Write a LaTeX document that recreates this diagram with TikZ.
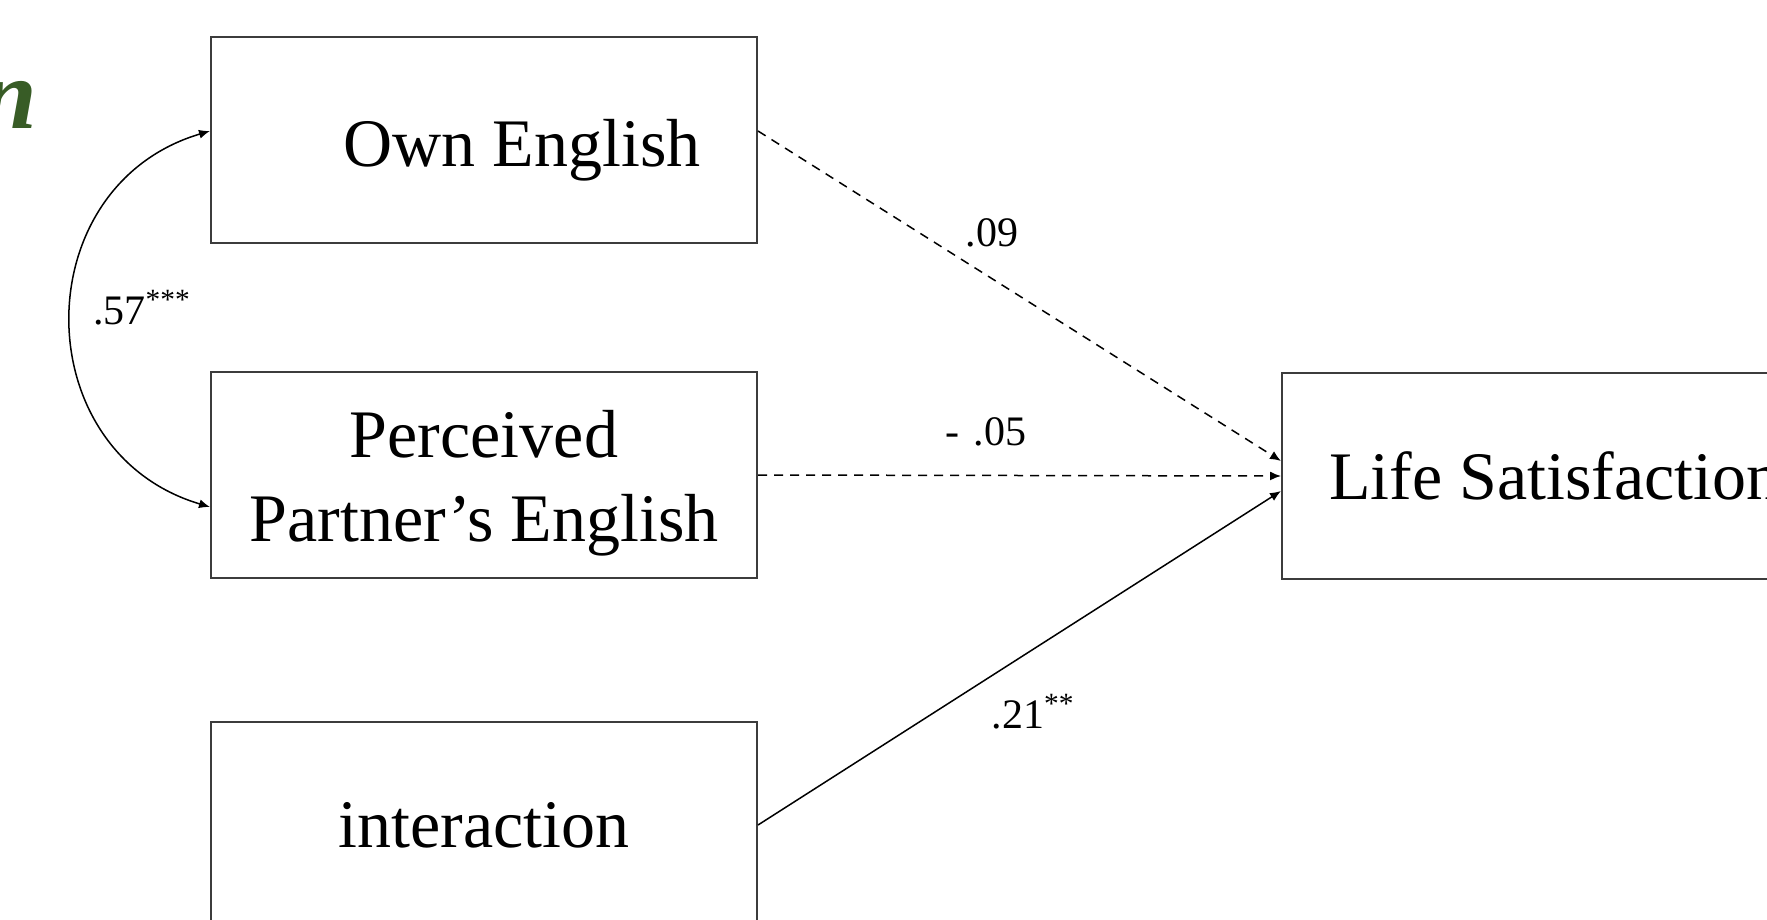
\documentclass[tikz,border=0pt]{standalone}
\usepackage{fontspec}
\setmainfont{Liberation Serif}
\usetikzlibrary{arrows.meta,calc}
\definecolor{headgreen}{RGB}{56,92,38}
\definecolor{boxline}{RGB}{60,60,60}
% lower a label inside its box without changing the box size
\newcommand{\lowerby}[2]{\raisebox{-#1}[\height][\depth]{#2}}
\begin{document}
\begin{tikzpicture}[x=0.5pt,y=-0.5pt,
  var/.style={draw=boxline, line width=1pt, minimum width=273pt, minimum height=103pt,
    inner sep=0pt, align=center, font=\fontsize{34}{42}\selectfont},
  tip/.tip={Latex[length=5.5pt,width=4.5pt]},
  effect/.style={line width=0.75pt, -tip},
  nseffect/.style={effect, dash pattern=on 4.5pt off 3.5pt},
  coef/.style={inner sep=0pt, font=\fontsize{21}{25}\selectfont}]
\useasboundingbox (0,0) rectangle (1767,920);

% heading fragment at the left margin
\node[anchor=base east, inner sep=0pt, text=headgreen,
      font=\fontsize{50}{50}\selectfont\bfseries\itshape] (hd) at (38,128) {n};

% variables
\node[var] (oe) at (484,140) {\lowerby{5pt}{\hspace*{38pt}Own English}};
\node[var] (pp) at (484,475)
  {\lowerby{4pt}{\begin{tabular}{@{}c@{}}Perceived\\Partner’s English\end{tabular}}};
\node[var] (ia) at (484,825) {interaction};
\node[var] (ls) at (1555,476) {Life Satisfaction};

% entry points on the outcome box
\coordinate (t1) at ($(ls.west)+(0,-15)$);
\coordinate (t3) at ($(ls.west)+(0,15)$);
\coordinate (s1) at ($(oe.east)+(0,-9)$);
\coordinate (c1) at ($(oe.west)+(0,-9)$);
\coordinate (c2) at ($(pp.west)+(0,32)$);

% paths
\draw[nseffect] (s1) -- (t1);
\draw[nseffect] (pp.east) -- (ls.west);
\draw[effect] (ia.east) -- (t3);

% covariance
\draw[line width=0.75pt, tip-tip] (c1) .. controls +(-185,55) and +(-185,-55) .. (c2);

% coefficients
\node[coef] (b1) at (992,233) {.09};
\node[coef] (b2) at (986,432) {-\,\,.05};
\node[coef] (b3) at (1033,712) {.21\textsuperscript{**}};
\node[coef] (r12) at (142,308) {.57\textsuperscript{***}};
\end{tikzpicture}
\end{document}
